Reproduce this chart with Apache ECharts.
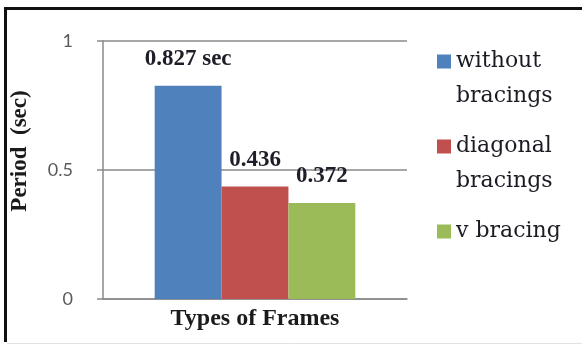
<!DOCTYPE html>
<html>
<head>
<meta charset="utf-8">
<script src="https://cdn.jsdelivr.net/npm/echarts@6/dist/echarts.min.js"></script>
<style>
  html, body { margin: 0; padding: 0; background: #fff; }
  #chart { width: 582px; height: 345px; }
</style>
</head>
<body>
<div id="chart"></div>
<script>
// Fundamental period of the frame for each bracing arrangement
const categories = [''];
const frameTypes = ['without\nbracings', 'diagonal\nbracings', 'v bracing'];
const periods = [0.827, 0.436, 0.372];
const labelUnits = [' sec', '', ''];
const yTicks = { min: 0, max: 1, step: 0.5 };

const colors = ['#4F81BD', '#C0504D', '#9BBB59'];
const serif = '"Liberation Serif", "Times New Roman", serif';
const legendFont = '"DejaVu Serif", serif';

const chart = echarts.init(document.getElementById('chart'));

// Legend text is centred on its swatch; a blank leading line (and a trailing one for
// single-line names) keeps the swatch level with the first line of each entry.
function legendText(name) {
  const lines = name.split('\n');
  return lines.length > 1 ? '\n' + name : '\n' + name + '\n';
}

const option = {
  animation: false,
  grid: { left: 103, right: 175, top: 41, bottom: 46 },
  legend: {
    orient: 'vertical',
    left: 437,
    top: 9,
    padding: 0,
    itemGap: -20,
    itemWidth: 14,
    itemHeight: 14,
    icon: 'rect',
    data: frameTypes,
    formatter: legendText,
    textStyle: {
      fontFamily: legendFont,
      fontSize: 22,
      lineHeight: 35,
      color: '#1b1b24'
    }
  },
  xAxis: {
    type: 'category',
    data: categories,
    name: 'Types of Frames',
    nameLocation: 'middle',
    nameGap: 8,
    nameTextStyle: {
      fontFamily: serif, fontWeight: 'bold', fontSize: 24, color: '#1b1b1b',
      verticalAlign: 'top'
    },
    axisLine: { lineStyle: { color: '#8a8a8a', width: 1.5 } },
    axisTick: { show: false },
    axisLabel: { show: false }
  },
  yAxis: {
    type: 'value',
    min: yTicks.min,
    max: yTicks.max,
    interval: yTicks.step,
    name: 'Period  (sec)',
    nameLocation: 'middle',
    nameRotate: 90,
    nameGap: 71,
    nameTextStyle: {
      fontFamily: serif, fontWeight: 'bold', fontSize: 23, color: '#1b1b1b',
      padding: [0, 0, 0, 38]
    },
    axisLine: { show: true, lineStyle: { color: '#8a8a8a', width: 1.5 } },
    axisTick: { show: true, length: 6, lineStyle: { color: '#8a8a8a', width: 1.5 } },
    axisLabel: {
      margin: 30,
      fontFamily: 'Lato, "Open Sans", sans-serif',
      fontSize: 18,
      color: '#5a5a5a'
    },
    splitLine: { lineStyle: { color: '#8a8a8a', width: 1.5 } }
  },
  series: frameTypes.map((name, i) => ({
    name: name,
    type: 'bar',
    data: [periods[i]],
    barGap: '0%',
    barCategoryGap: '34%',
    itemStyle: { color: colors[i] },
    label: {
      show: true,
      position: 'top',
      distance: 15,
      fontFamily: serif,
      fontWeight: 'bold',
      fontSize: 23,
      color: '#1e1e28',
      formatter: p => p.value + labelUnits[i]
    }
  })),
  graphic: [
    { type: 'line', shape: { x1: 4, y1: 8.5, x2: 582, y2: 8.5 }, style: { stroke: '#111', lineWidth: 3 } },
    { type: 'line', shape: { x1: 5.5, y1: 7, x2: 5.5, y2: 342 }, style: { stroke: '#111', lineWidth: 3 } },
    { type: 'line', shape: { x1: 7, y1: 343.5, x2: 582, y2: 343.5 }, style: { stroke: '#e2e2e2', lineWidth: 1 } }
  ]
};

chart.setOption(option);
</script>
</body>
</html>
